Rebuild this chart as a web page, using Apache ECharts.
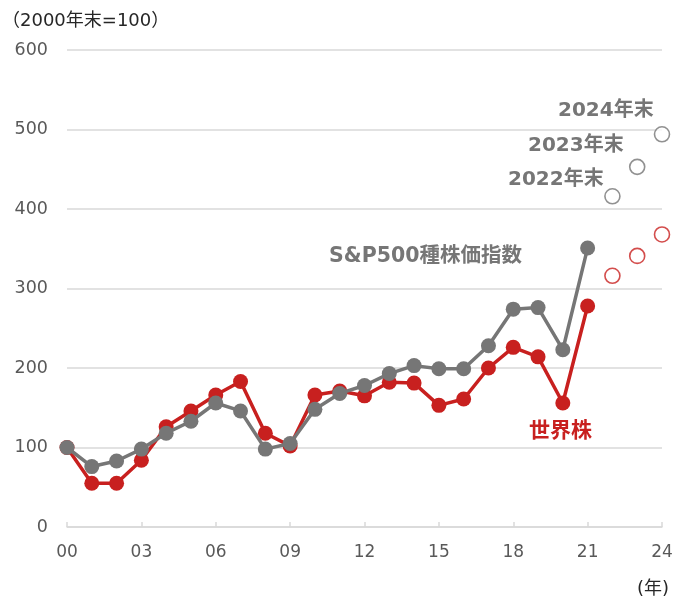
<!DOCTYPE html>
<html>
<head>
<meta charset="utf-8">
<script src="https://cdn.jsdelivr.net/npm/echarts@6/dist/echarts.min.js"></script>
<style>
  html, body { margin: 0; padding: 0; background: #fff; }
  #main { width: 685px; height: 599px; }
</style>
</head>
<body>
<div id="main"></div>
<script>
  // 年（2000年末～2024年末）
  var years = ['00','01','02','03','04','05','06','07','08','09','10','11','12',
               '13','14','15','16','17','18','19','20','21','22','23','24'];
  // S&P500種株価指数（2000年末=100）
  var spx = [100, 76, 83, 98, 118, 133, 156, 146, 98, 105, 148, 168, 178,
             193, 203, 199, 199, 228, 274, 276, 223, 351];
  // 世界株
  var world = [100, 55, 55, 84, 126, 146, 166, 183, 118, 102, 166, 171, 165,
               182, 181, 153, 161, 200, 226, 214, 156, 278];
  // 2022～2024年末（白抜き）
  var spxEnd = [416, 453, 494];
  var worldEnd = [316, 341, 368];
  var yTicks = [0, 100, 200, 300, 400, 500, 600];

  var grayColor = '#767676';
  var redColor = '#c8201f';
  var font = "'DejaVu Sans', 'Noto Sans CJK JP', sans-serif";

  function pad(arr, before, total) {
    var out = [];
    for (var i = 0; i < total; i++) {
      var j = i - before;
      out.push(j >= 0 && j < arr.length ? arr[j] : null);
    }
    return out;
  }

  var chart = echarts.init(document.getElementById('main'));
  chart.setOption({
    animation: false,
    textStyle: { fontFamily: font },
    grid: { left: 67, right: 23, top: 50, bottom: 72 },
    xAxis: {
      type: 'category',
      data: years,
      boundaryGap: false,
      axisLine: { lineStyle: { color: '#d9d9d9', width: 1.5 } },
      axisTick: { inside: true, length: 5, interval: 2, lineStyle: { color: '#d9d9d9', width: 1.5 } },
      axisLabel: { interval: 2, color: '#595959', fontSize: 17, margin: 17, fontFamily: font }
    },
    yAxis: {
      type: 'value',
      min: yTicks[0],
      max: yTicks[yTicks.length - 1],
      interval: 100,
      axisLine: { show: false },
      axisTick: { show: false },
      axisLabel: { color: '#595959', fontSize: 17.5, margin: 19, fontFamily: font },
      splitLine: { lineStyle: { color: '#d9d9d9', width: 1.5 } }
    },
    series: [
      {
        name: '世界株',
        type: 'line',
        data: world,
        symbol: 'circle',
        symbolSize: 15,
        itemStyle: { color: redColor },
        lineStyle: { color: redColor, width: 3.5 },
        z: 2
      },
      {
        name: 'S&P500種株価指数',
        type: 'line',
        data: spx,
        symbol: 'circle',
        symbolSize: 15,
        itemStyle: { color: grayColor },
        lineStyle: { color: grayColor, width: 3.5 },
        z: 3
      },
      {
        type: 'scatter',
        data: pad(worldEnd, 22, years.length),
        symbol: 'circle',
        symbolSize: 15,
        itemStyle: { color: '#fff', borderColor: redColor, borderWidth: 1.6 }
      },
      {
        type: 'scatter',
        data: pad(spxEnd, 22, years.length),
        symbol: 'circle',
        symbolSize: 15,
        itemStyle: { color: '#fff', borderColor: grayColor, borderWidth: 1.6 }
      }
    ],
    graphic: [
      { type: 'text', left: 2, top: 12, style: { text: '（2000年末=100）', font: '18px ' + font, fill: '#262626' } },
      { type: 'text', left: 637, top: 580, style: { text: '(年)', font: '18px ' + font, fill: '#262626' } },
      { type: 'text', left: 329, top: 246, style: { text: 'S&P500種株価指数', font: 'bold 20.5px ' + font, fill: grayColor } },
      { type: 'text', left: 529, top: 421, style: { text: '世界株', font: 'bold 21px ' + font, fill: redColor } },
      { type: 'text', left: 558, top: 101, style: { text: '2024年末', font: 'bold 20px ' + font, fill: grayColor } },
      { type: 'text', left: 528, top: 136, style: { text: '2023年末', font: 'bold 20px ' + font, fill: grayColor } },
      { type: 'text', left: 508, top: 170, style: { text: '2022年末', font: 'bold 20px ' + font, fill: grayColor } }
    ]
  });
</script>
</body>
</html>
